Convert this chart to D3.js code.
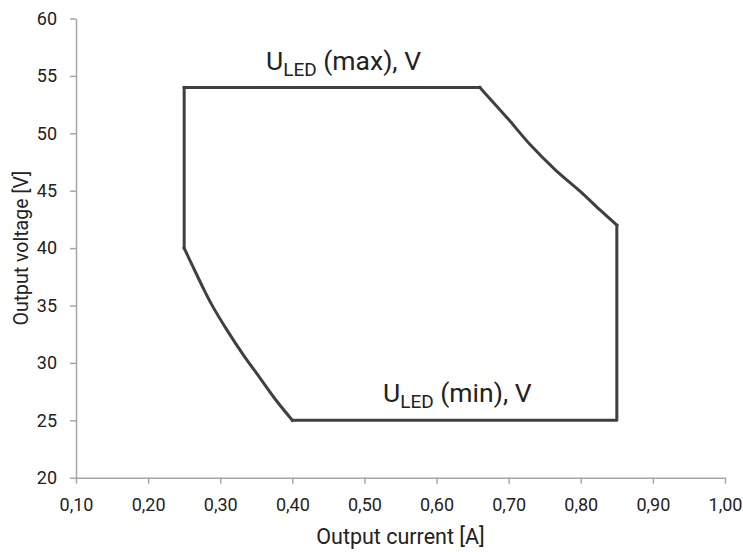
<!DOCTYPE html>
<html>
<head>
<meta charset="utf-8">
<script src="https://cdn.jsdelivr.net/npm/d3@7"></script>
<style>
  body { margin: 0; background: #fff; }
  svg text { font-family: Roboto, "DejaVu Sans", sans-serif; fill: #222; }
</style>
</head>
<body>
<svg width="743" height="552"></svg>
<script>
// operating window outline, clockwise from top-left corner
const topCurrent = [0.25, 0.66];
const topVoltage = [54, 54];
const rightCurveCurrent = [0.66, 0.68, 0.70, 0.73, 0.765, 0.80, 0.827, 0.85];
const rightCurveVoltage = [54, 52.6, 51.2, 49.0, 46.8, 44.9, 43.3, 42];
const bottomCurrent = [0.85, 0.85, 0.40];
const bottomVoltage = [42, 25, 25];
const leftCurveCurrent = [0.40, 0.378, 0.355, 0.332, 0.309, 0.288, 0.275, 0.262, 0.25];
const leftCurveVoltage = [25, 26.7, 28.7, 30.7, 32.9, 35.1, 36.7, 38.4, 40];
const leftCurrent = [0.25, 0.25];
const leftVoltage = [40, 54];

const xTicks = [0.1, 0.2, 0.3, 0.4, 0.5, 0.6, 0.7, 0.8, 0.9, 1.0];
const yTicks = [20, 25, 30, 35, 40, 45, 50, 55, 60];

const svg = d3.select("svg");

const x = d3.scaleLinear().domain([0.1, 1.0]).range([76, 725]);
const y = d3.scaleLinear().domain([20, 60]).range([477.7, 18.5]);

const fmt = v => v.toFixed(2).replace(".", ",");

const xAxis = svg.append("g")
    .attr("transform", `translate(0,${y(20)})`)
    .call(d3.axisBottom(x).tickValues(xTicks).tickFormat(fmt).tickSize(6).tickSizeOuter(0));

const yAxis = svg.append("g")
    .attr("transform", `translate(${x(0.1)},0)`)
    .call(d3.axisLeft(y).tickValues(yTicks).tickSize(6).tickSizeOuter(0));

[xAxis, yAxis].forEach(g => {
    g.selectAll("path, line").attr("stroke", "#a6a6a6").attr("stroke-width", 1.5);
    g.selectAll("text").attr("font-size", 18).attr("fill", "#222")
        .style("font-family", "Roboto, sans-serif");
});
xAxis.selectAll("text").attr("dy", "0").attr("y", 33.5);
yAxis.selectAll("text").attr("x", -19);

const line = d3.line().x(d => x(d[0])).y(d => y(d[1]));
const zip = (a, b) => a.map((c, i) => [c, b[i]]);

const pieces = [
    [zip(topCurrent, topVoltage), d3.curveLinear],
    [zip(rightCurveCurrent, rightCurveVoltage), d3.curveCatmullRom],
    [zip(bottomCurrent, bottomVoltage), d3.curveLinear],
    [zip(leftCurveCurrent, leftCurveVoltage), d3.curveCatmullRom],
    [zip(leftCurrent, leftVoltage), d3.curveLinear]
];

pieces.forEach(([pts, curve]) => {
    svg.append("path")
        .datum(pts)
        .attr("fill", "none")
        .attr("stroke", "#404040")
        .attr("stroke-width", 3)
        .attr("stroke-linejoin", "round")
        .attr("stroke-linecap", "square")
        .attr("d", line.curve(curve));
});

// annotations
function label(px, py, tag) {
    const t = svg.append("text").attr("x", px).attr("y", py).attr("font-size", 26.5);
    t.append("tspan").text("U");
    t.append("tspan").attr("font-size", 19).attr("dy", 6).text("LED");
    t.append("tspan").attr("dy", -6).text(" (" + tag + "), V");
}
label(266, 70, "max");
label(383, 402, "min");

svg.append("text")
    .attr("x", (x(0.1) + x(1.0)) / 2)
    .attr("y", 544)
    .attr("text-anchor", "middle")
    .attr("font-size", 21.5)
    .text("Output current [A]");

svg.append("text")
    .attr("transform", `translate(28,${y(40)})rotate(-90)`)
    .attr("text-anchor", "middle")
    .attr("font-size", 19.5)
    .text("Output voltage [V]");
</script>
</body>
</html>
